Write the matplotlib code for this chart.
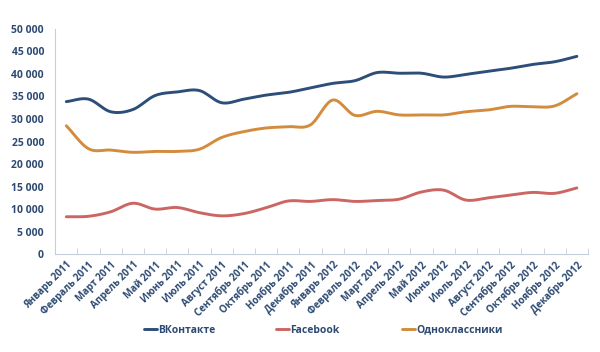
import numpy as np
import matplotlib.pyplot as plt
from matplotlib.ticker import FuncFormatter

months = ['Январь', 'Февраль', 'Март', 'Апрель', 'Май', 'Июнь', 'Июль',
          'Август', 'Сентябрь', 'Октябрь', 'Ноябрь', 'Декабрь']
labels = [f'{m} {y}' for y in (2011, 2012) for m in months]

vkontakte = [33850, 34400, 31600, 32100, 35200, 36000, 36300, 33600, 34400, 35300, 35900, 36900,
             37900, 38500, 40300, 40150, 40150, 39300, 39900, 40600, 41250, 42100, 42700, 43900]
facebook = [8300, 8400, 9400, 11300, 10000, 10350, 9200, 8500, 9000, 10300, 11800, 11700,
            12100, 11700, 11900, 12200, 13800, 14200, 12000, 12500, 13100, 13700, 13500, 14700]
odnoklassniki = [28500, 23400, 23100, 22600, 22800, 22800, 23300, 25900, 27200, 28000, 28300, 28700,
                 34200, 30800, 31700, 30900, 30900, 30900, 31600, 32000, 32800, 32700, 32900, 35600]

series = [('ВКонтакте', vkontakte, '#2d4e78'),
          ('Facebook', facebook, '#cc6663'),
          ('Одноклассники', odnoklassniki, '#d38b3e')]

txt = '#2d4a72'
axis_col = '#c5cfdc'


def smooth(y, n=20):
    # catmull-rom curve through the points, like excel's smoothed line
    y = np.asarray(y, dtype=float)
    p = np.concatenate([[2 * y[0] - y[1]], y, [2 * y[-1] - y[-2]]])
    xs, ys = [], []
    for i in range(len(y) - 1):
        t = np.linspace(0, 1, n, endpoint=False)
        p0, p1, p2, p3 = p[i], p[i + 1], p[i + 2], p[i + 3]
        seg = 0.5 * ((2 * p1) + (-p0 + p2) * t + (2 * p0 - 5 * p1 + 4 * p2 - p3) * t ** 2
                     + (-p0 + 3 * p1 - 3 * p2 + p3) * t ** 3)
        xs.append(i + t)
        ys.append(seg)
    xs.append([len(y) - 1])
    ys.append([y[-1]])
    return np.concatenate(xs), np.concatenate(ys)


plt.rcParams['font.family'] = ['Open Sans', 'DejaVu Sans']
fig = plt.figure(figsize=(6, 3.52), dpi=100)
ax = fig.add_axes([0.092, 0.278, 0.888, 0.64])

lines = []
for name, vals, col in series:
    sx, sy = smooth(vals)
    ln, = ax.plot(sx, sy, color=col, lw=2.1, label=name, solid_capstyle='round')
    lines.append(ln)

ax.set_xlim(-0.5, len(labels) - 0.5)
ax.set_ylim(0, 50000)
ax.set_yticks(np.arange(0, 50001, 5000))
ax.yaxis.set_major_formatter(FuncFormatter(lambda v, p: f'{int(v):,}'.replace(',', ' ')))
ax.set_xticks(np.arange(len(labels)))
ax.set_xticklabels(labels, rotation=45, ha='right', rotation_mode='anchor')
ax.set_xticks(np.arange(-0.5, len(labels)), minor=True)
ax.tick_params(axis='x', which='major', length=0, pad=4, labelsize=7, labelcolor=txt)
ax.tick_params(axis='x', which='minor', length=4, color=axis_col, direction='in')
ax.tick_params(axis='y', length=0, pad=8, labelsize=7.5, labelcolor=txt)
for lab in ax.get_xticklabels() + ax.get_yticklabels():
    lab.set_fontweight('bold')

for s in ['top', 'right']:
    ax.spines[s].set_visible(False)
for s in ['left', 'bottom']:
    ax.spines[s].set_color(axis_col)

# one legend per entry so the columns start at even steps like the original
for ln, xpos in zip(lines, [0.232, 0.452, 0.662]):
    leg = fig.legend([ln], [ln.get_label()], loc='center left', bbox_to_anchor=(xpos, 0.062),
                     frameon=False, handlelength=1.2, handletextpad=0.1, borderpad=0,
                     prop={'weight': 'bold', 'size': 7.5})
    for t in leg.get_texts():
        t.set_color(txt)

fig.savefig('out.png')
